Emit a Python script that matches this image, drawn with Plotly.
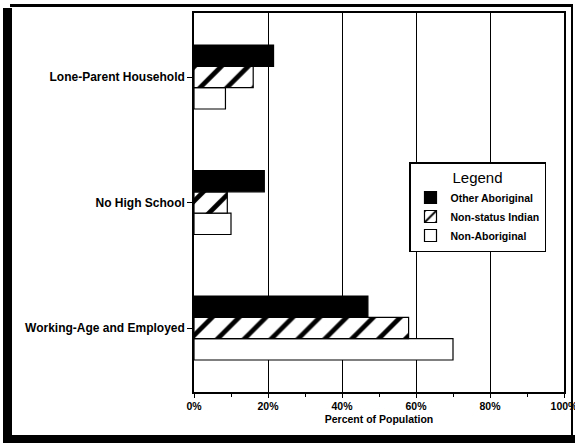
import plotly.graph_objects as go

categories = ["Working-Age and Employed", "No High School", "Lone-Parent Household"]
other_aboriginal = [47, 19, 21.5]
non_status_indian = [58, 9, 16]
non_aboriginal = [70, 10, 8.5]
x_tick_vals = [0, 20, 40, 60, 80, 100]
x_tick_text = ["0%", "20%", "40%", "60%", "80%", "100%"]

FONT = "Liberation Sans"

fig = go.Figure()
fig.add_trace(go.Bar(
    name="Non-Aboriginal", y=categories, x=non_aboriginal, orientation="h",
    marker=dict(color="white", line=dict(color="black", width=1.2)),
    legendrank=3,
))
fig.add_trace(go.Bar(
    name="Non-status Indian", y=categories, x=non_status_indian, orientation="h",
    marker=dict(color="white", line=dict(color="black", width=1.2),
                pattern=dict(shape="/", fgcolor="black", bgcolor="white",
                             size=19, solidity=0.25, fillmode="replace")),
    legendrank=2,
))
fig.add_trace(go.Bar(
    name="Other Aboriginal", y=categories, x=other_aboriginal, orientation="h",
    marker=dict(color="black", line=dict(color="black", width=1.2)),
    legendrank=1,
))

L, R, T, B = 194, 11, 13, 51
W, H = 575, 443
pw, ph = W - L - R, H - T - B

def px(x):
    return (x - L) / pw

def py(y):
    return (H - B - y) / ph

shapes = [
    dict(type="rect", xref="paper", yref="paper", x0=px(3), x1=px(12), y0=py(441), y1=py(8),
         fillcolor="black", line=dict(width=0), layer="above"),
    dict(type="rect", xref="paper", yref="paper", x0=px(3), x1=px(575), y0=py(443), y1=py(435),
         fillcolor="black", line=dict(width=0), layer="above"),
    dict(type="rect", xref="paper", yref="paper", x0=px(10), x1=px(571), y0=py(7), y1=py(4),
         fillcolor="black", line=dict(width=0), layer="above"),
    dict(type="rect", xref="paper", yref="paper", x0=px(571), x1=px(573), y0=py(441), y1=py(4),
         fillcolor="black", line=dict(width=0), layer="above"),
]

fig.update_layout(
    width=W, height=H,
    margin=dict(l=L, r=R, t=T, b=B, autoexpand=False),
    paper_bgcolor="white", plot_bgcolor="white",
    barmode="group", bargap=0.49, bargroupgap=0,
    font=dict(family=FONT, size=10, color="black", weight="bold"),
    showlegend=True,
    legend=dict(
        x=px(409), y=py(162), xanchor="left", yanchor="top",
        bgcolor="white", bordercolor="black", borderwidth=1.5,
        title=dict(text="Legend", side="top center",
                   font=dict(family=FONT, size=15, color="black", weight="normal")),
        font=dict(family=FONT, size=10.5, color="black", weight="bold"),
        itemwidth=30, tracegroupgap=0,
        entrywidth=134, entrywidthmode="pixels",
    ),
    shapes=shapes,
    xaxis=dict(
        range=[0, 100], tickvals=x_tick_vals, ticktext=x_tick_text,
        showgrid=True, gridcolor="black", gridwidth=1.2,
        showline=True, linecolor="black", linewidth=1.5, mirror=True,
        ticks="outside", ticklen=4, tickcolor="black",
        minor=dict(dtick=10, ticks="outside", ticklen=3, tickcolor="black", showgrid=False),
        zeroline=False, ticklabeloverflow="allow", automargin=False,
        title=dict(text="Percent of Population", standoff=4,
                   font=dict(family=FONT, size=10.5, color="black", weight="bold")),
        tickfont=dict(family=FONT, size=10.5, color="black", weight="bold"),
    ),
    yaxis=dict(
        categoryorder="array", categoryarray=categories,
        range=[-0.51, 2.51], automargin=False,
        showgrid=False, showline=True, linecolor="black", linewidth=1.5, mirror=True,
        ticks="outside", ticklen=5, tickcolor="black",
        tickfont=dict(family=FONT, size=12, color="black", weight="bold"),
    ),
)

fig.write_html("out.html", config={"displayModeBar": False},
               post_script="document.body.style.margin='0';document.body.style.overflow='hidden';")
